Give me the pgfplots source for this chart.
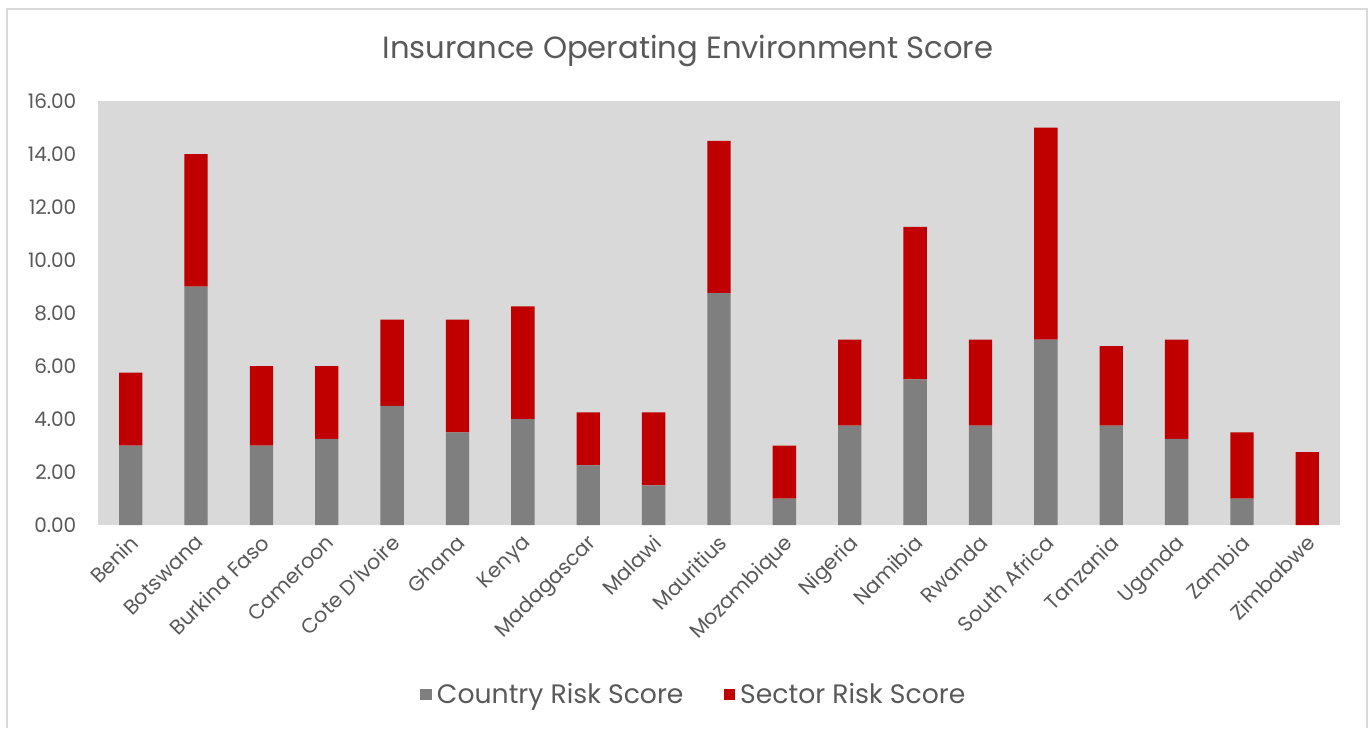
\documentclass[border=0pt]{standalone}
\usepackage{fontspec}
\setmainfont{Poppins}
\usepackage{pgfplots}
\pgfplotsset{compat=1.18}
\definecolor{txt}{HTML}{595959}
\definecolor{cgray}{HTML}{7F7F7F}
\definecolor{cred}{HTML}{C00000}
\definecolor{plotbg}{HTML}{D9D9D9}
\definecolor{frame}{HTML}{D9D9D9}

% 1 px of the reference = 0.75pt
\begin{document}
\begin{tikzpicture}
  \fill[white] (0pt,0pt) rectangle (1027.5pt,543.75pt);
  \draw[frame,line width=1.5pt] (5.6pt,-2pt) -- (5.6pt,537pt) -- (1025.3pt,537pt) -- (1025.3pt,-2pt);
  \node[text=txt,font=\fontsize{23}{28}\selectfont] at (516pt,505.5pt) {Insurance Operating Environment Score};

  \begin{axis}[
      at={(73.5pt,150pt)}, anchor=south west,
      scale only axis,
      width=931.5pt, height=318pt,
      ybar stacked,
      bar width=17.5pt,
      xmin=-0.5, xmax=18.5,
      ymin=0, ymax=16,
      ytick={0,2,...,16},
      xtick=data,
      xticklabels={Benin, Botswana, Burkina Faso, Cameroon, Cote D'Ivoire, Ghana, Kenya, Madagascar, Malawi, Mauritius, Mozambique, Nigeria, Namibia, Rwanda, South Africa, Tanzania, Uganda, Zambia, Zimbabwe},
      xticklabel style={rotate=45, anchor=north east, font=\fontsize{15.5}{18}\selectfont, text=txt, xshift=-2pt, yshift=0pt},
      yticklabel style={font=\fontsize{15}{18}\selectfont, text=txt, xshift=-12.75pt},
      /pgf/number format/.cd, fixed, fixed zerofill, precision=2, assume math mode=true,
      /pgfplots/.cd,
      axis background/.style={fill=plotbg},
      axis line style={draw=none},
      tick style={draw=none},
      legend columns=2,
      legend style={at={(0.48,-0.3986)}, anchor=center, draw=none, fill=none,
        font=\fontsize{20}{24}\selectfont, text=txt,
        /tikz/every odd column/.append style={column sep=2pt},
        /tikz/every even column/.append style={column sep=28pt}},
      legend image code/.code={\fill[#1] (0pt,-4.5pt) rectangle (8.5pt,4pt);},
    ]
    \addplot[fill=cgray, draw=none] coordinates {
      (0,3) (1,9) (2,3) (3,3.25) (4,4.5) (5,3.5) (6,4) (7,2.25) (8,1.5) (9,8.75)
      (10,1) (11,3.75) (12,5.5) (13,3.75) (14,7) (15,3.75) (16,3.25) (17,1) (18,0)};
    \addplot[fill=cred, draw=none] coordinates {
      (0,2.75) (1,5) (2,3) (3,2.75) (4,3.25) (5,4.25) (6,4.25) (7,2) (8,2.75) (9,5.75)
      (10,2) (11,3.25) (12,5.75) (13,3.25) (14,8) (15,3) (16,3.75) (17,2.5) (18,2.75)};
    \legend{Country Risk Score, Sector Risk Score}
  \end{axis}
\end{tikzpicture}
\end{document}
